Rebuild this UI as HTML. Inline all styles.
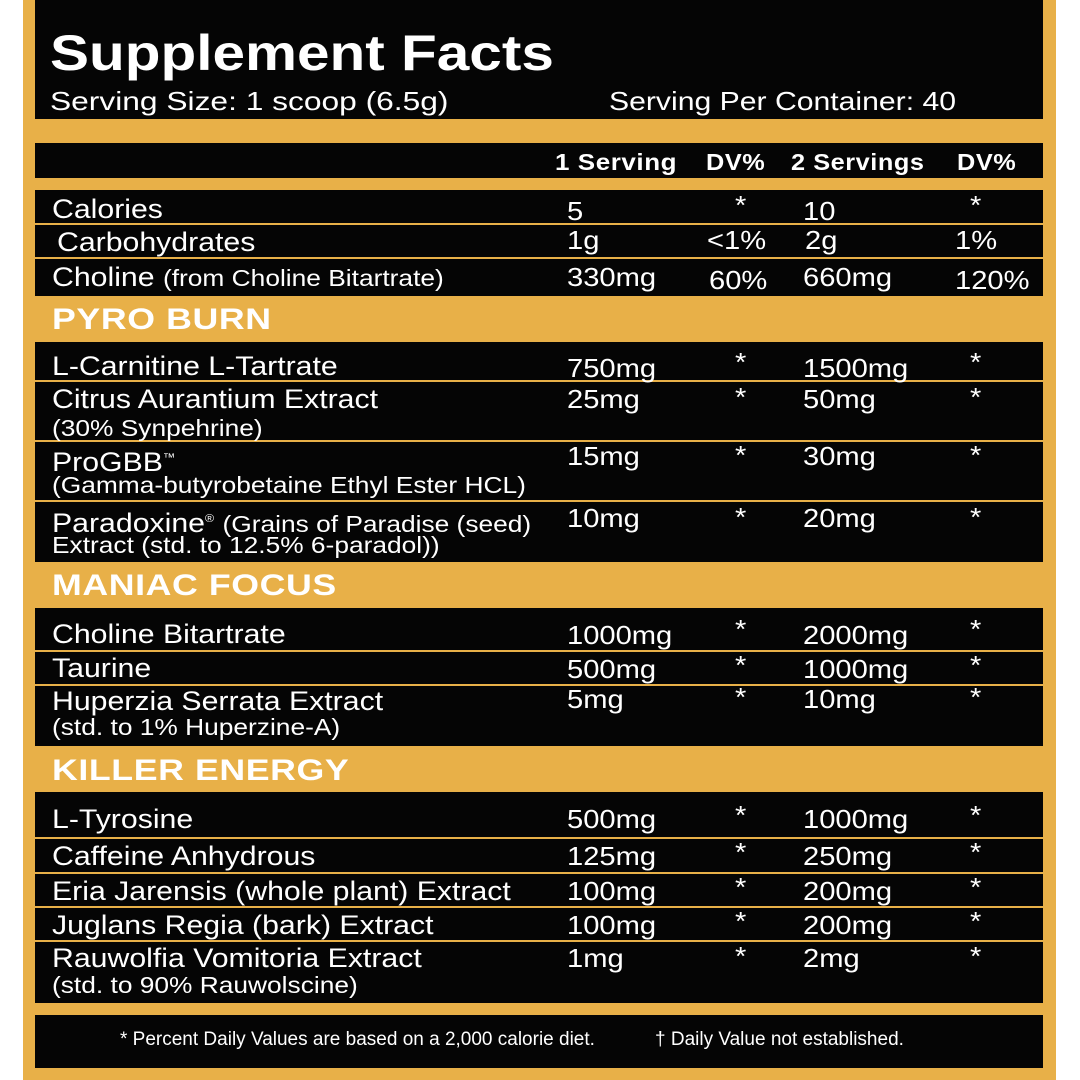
<!DOCTYPE html>
<html><head><meta charset="utf-8"><style>
*{margin:0;padding:0}
body{width:1080px;height:1080px;background:#fff;position:relative;overflow:hidden;font-family:"Liberation Sans",Arial,sans-serif;color:#fff}
.o{position:absolute;left:23px;top:0;width:1033px;height:1080px;background:#e8b048}
.b{position:absolute;left:35px;width:1008px;background:#050505}
.l{position:absolute;left:35px;width:1008px;height:2px;background:#e8b048}
.t{position:absolute;white-space:nowrap;line-height:30px;height:30px;font-size:26px;transform:scaleX(1.12);transform-origin:left}
.n{font-size:27px}
.s{font-size:23.5px}
.n .s{font-size:23.5px}
.h{font-weight:bold;font-size:23px;letter-spacing:0.5px;transform:scaleX(1.1)}
.sec{font-weight:bold;font-size:30px;transform:scaleX(1.19);letter-spacing:0.5px}
.f{transform:none}
</style></head><body>
<div class="o"></div>
<div class="b" style="top:0;height:119px"></div>
<div class="b" style="top:143px;height:35px"></div>
<div class="b" style="top:190px;height:106px"></div>
<div class="l" style="top:223px"></div><div class="l" style="top:257px"></div>
<div class="b" style="top:342px;height:220px"></div>
<div class="l" style="top:380px"></div><div class="l" style="top:440px"></div><div class="l" style="top:500px"></div>
<div class="b" style="top:608px;height:138px"></div>
<div class="l" style="top:650px"></div><div class="l" style="top:684px"></div>
<div class="b" style="top:792px;height:211px"></div>
<div class="l" style="top:837px"></div><div class="l" style="top:872px"></div><div class="l" style="top:906px"></div><div class="l" style="top:940px"></div>
<div class="b" style="top:1015px;height:53px"></div>

<div class="t" style="left:50px;top:28px;font-size:50px;font-weight:bold;line-height:50px;height:50px;transform:scaleX(1.17)">Supplement Facts</div>
<div class="t" style="left:50px;top:86px;transform:scaleX(1.22)">Serving Size: 1 scoop (6.5g)</div>
<div class="t" style="left:609px;top:86px;transform:scaleX(1.16)">Serving Per Container: 40</div>

<div class="t h" style="left:555px;top:147px;transform:scaleX(1.13)">1 Serving</div>
<div class="t h" style="left:706px;top:147px">DV%</div>
<div class="t h" style="left:791px;top:147px">2 Servings</div>
<div class="t h" style="left:957px;top:147px">DV%</div>

<div class="t n" style="left:52px;top:194px">Calories</div>
<div class="t" style="left:567px;top:196px">5</div><div class="t" style="left:735px;top:190px">*</div><div class="t" style="left:803px;top:196px">10</div><div class="t" style="left:970px;top:190px">*</div>
<div class="t n" style="left:57px;top:227px">Carbohydrates</div>
<div class="t" style="left:567px;top:225px">1g</div><div class="t" style="left:707px;top:225px">&lt;1%</div><div class="t" style="left:805px;top:225px">2g</div><div class="t" style="left:955px;top:225px">1%</div>
<div class="t n" style="left:52px;top:262px">Choline <span class="s">(from Choline Bitartrate)</span></div>
<div class="t" style="left:567px;top:262px">330mg</div><div class="t" style="left:709px;top:265px">60%</div><div class="t" style="left:803px;top:262px">660mg</div><div class="t" style="left:955px;top:265px">120%</div>

<div class="t sec" style="left:52px;top:305px">PYRO BURN</div>
<div class="t n" style="left:52px;top:351px">L-Carnitine L-Tartrate</div>
<div class="t" style="left:567px;top:353px">750mg</div><div class="t" style="left:735px;top:347px">*</div><div class="t" style="left:803px;top:353px">1500mg</div><div class="t" style="left:970px;top:347px">*</div>
<div class="t n" style="left:52px;top:384px">Citrus Aurantium Extract</div>
<div class="t s" style="left:52px;top:413px">(30% Synpehrine)</div>
<div class="t" style="left:567px;top:384px">25mg</div><div class="t" style="left:735px;top:382px">*</div><div class="t" style="left:803px;top:384px">50mg</div><div class="t" style="left:970px;top:382px">*</div>
<div class="t n" style="left:52px;top:443px">ProGBB<sup style="font-size:11px">™</sup></div>
<div class="t s" style="left:52px;top:470px">(Gamma-butyrobetaine Ethyl Ester HCL)</div>
<div class="t" style="left:567px;top:441px">15mg</div><div class="t" style="left:735px;top:440px">*</div><div class="t" style="left:803px;top:441px">30mg</div><div class="t" style="left:970px;top:440px">*</div>
<div class="t n" style="left:52px;top:504px">Paradoxine<sup style="font-size:11px">®</sup> <span class="s">(Grains of Paradise (seed)</span></div>
<div class="t s" style="left:52px;top:530px">Extract (std. to 12.5% 6-paradol))</div>
<div class="t" style="left:567px;top:503px">10mg</div><div class="t" style="left:735px;top:502px">*</div><div class="t" style="left:803px;top:503px">20mg</div><div class="t" style="left:970px;top:502px">*</div>

<div class="t sec" style="left:52px;top:571px">MANIAC FOCUS</div>
<div class="t n" style="left:52px;top:619px">Choline Bitartrate</div>
<div class="t" style="left:567px;top:620px">1000mg</div><div class="t" style="left:735px;top:614px">*</div><div class="t" style="left:803px;top:620px">2000mg</div><div class="t" style="left:970px;top:614px">*</div>
<div class="t n" style="left:52px;top:653px">Taurine</div>
<div class="t" style="left:567px;top:654px">500mg</div><div class="t" style="left:735px;top:650px">*</div><div class="t" style="left:803px;top:654px">1000mg</div><div class="t" style="left:970px;top:650px">*</div>
<div class="t n" style="left:52px;top:686px">Huperzia Serrata Extract</div>
<div class="t s" style="left:52px;top:712px">(std. to 1% Huperzine-A)</div>
<div class="t" style="left:567px;top:684px">5mg</div><div class="t" style="left:735px;top:682px">*</div><div class="t" style="left:803px;top:684px">10mg</div><div class="t" style="left:970px;top:682px">*</div>

<div class="t sec" style="left:52px;top:756px">KILLER ENERGY</div>
<div class="t n" style="left:52px;top:804px">L-Tyrosine</div>
<div class="t" style="left:567px;top:804px">500mg</div><div class="t" style="left:735px;top:800px">*</div><div class="t" style="left:803px;top:804px">1000mg</div><div class="t" style="left:970px;top:800px">*</div>
<div class="t n" style="left:52px;top:841px">Caffeine Anhydrous</div>
<div class="t" style="left:567px;top:841px">125mg</div><div class="t" style="left:735px;top:837px">*</div><div class="t" style="left:803px;top:841px">250mg</div><div class="t" style="left:970px;top:837px">*</div>
<div class="t n" style="left:52px;top:876px">Eria Jarensis (whole plant) Extract</div>
<div class="t" style="left:567px;top:876px">100mg</div><div class="t" style="left:735px;top:872px">*</div><div class="t" style="left:803px;top:876px">200mg</div><div class="t" style="left:970px;top:872px">*</div>
<div class="t n" style="left:52px;top:910px">Juglans Regia (bark) Extract</div>
<div class="t" style="left:567px;top:910px">100mg</div><div class="t" style="left:735px;top:906px">*</div><div class="t" style="left:803px;top:910px">200mg</div><div class="t" style="left:970px;top:906px">*</div>
<div class="t n" style="left:52px;top:943px">Rauwolfia Vomitoria Extract</div>
<div class="t s" style="left:52px;top:970px">(std. to 90% Rauwolscine)</div>
<div class="t" style="left:567px;top:943px">1mg</div><div class="t" style="left:735px;top:941px">*</div><div class="t" style="left:803px;top:943px">2mg</div><div class="t" style="left:970px;top:941px">*</div>

<div class="t f" style="left:120px;top:1025px;font-size:19px">* Percent Daily Values are based on a 2,000 calorie diet.</div>
<div class="t f" style="left:655px;top:1025px;font-size:19px">† Daily Value not established.</div>
</body></html>
